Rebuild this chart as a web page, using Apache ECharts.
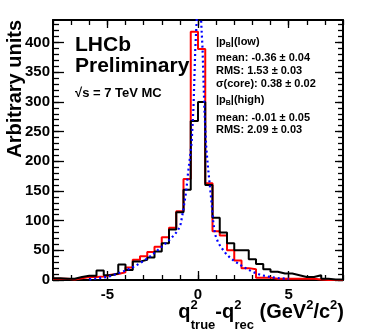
<!DOCTYPE html>
<html>
<head>
<meta charset="utf-8">
<script src="https://cdn.jsdelivr.net/npm/echarts@6/dist/echarts.min.js"></script>
<style>
  html, body { margin: 0; padding: 0; background: #fff; }
  #chart { width: 366px; height: 336px; }
</style>
</head>
<body>
<div id="chart"></div>
<script>
// histogram bins of q2(true) - q2(rec), GeV^2/c^2
const binEdges = [-8, -7.6, -7.2, -6.8, -6.4, -6, -5.6, -5.2, -4.8, -4.4, -4, -3.6, -3.2, -2.8, -2.4, -2, -1.6, -1.2, -0.8, -0.4,
  0, 0.4, 0.8, 1.2, 1.6, 2, 2.4, 2.8, 3.2, 3.6, 4, 4.4, 4.8, 5.2, 5.6, 6, 6.4, 6.8, 7.2, 7.6, 8];
// |pB| low (red)
const lowCounts = [2, 2, 1, 3, 5, 5, 6, 9, 10, 13, 21, 34, 40, 47, 56, 72, 88, 116, 170, 418,
  389, 163, 82, 75, 50, 33, 20, 18, 4, 4, 2, 2, 2, 2, 2, 2, 1, 0, 0, 0];
// |pB| high (black)
const highCounts = [3, 2, 2, 5, 7, 7, 16, 8, 11, 26, 17, 31, 34, 38, 48, 62, 85, 114, 152, 268,
  300, 160, 105, 80, 62, 50, 50, 35, 27, 18, 14, 11, 11, 8, 5, 5, 8, 2, 1, 1];
// fit to the low histogram (blue dotted)
const fitX = [-6, -5.5, -5, -4.5, -4, -3.5, -3, -2.5, -2, -1.6, -1.3, -1.1, -0.95, -0.8, -0.65, -0.55, -0.45, -0.35, -0.25, -0.15, -0.05,
  0.05, 0.15, 0.25, 0.35, 0.45, 0.55, 0.65, 0.75, 0.85, 0.95, 1.1, 1.25, 1.5, 1.75, 2, 2.5, 3, 3.5, 4, 4.5, 5];
const fitY = [1, 3, 5, 10, 16, 23, 32, 43, 56, 67, 76, 84, 95, 120, 150, 180, 205, 232, 290, 390, 450,
  470, 450, 390, 290, 225, 190, 160, 130, 95, 76, 64, 56, 46, 38, 32, 22, 14, 8, 5, 3, 2];

const xMajor = [-5, 0, 5];
const xMinor = [-8, -7, -6, -5, -4, -3, -2, -1, 0, 1, 2, 3, 4, 5, 6, 7, 8];
const yMajor = [0, 50, 100, 150, 200, 250, 300, 350, 400];
const yMinor = [0, 10, 20, 30, 40, 50, 60, 70, 80, 90, 100, 110, 120, 130, 140, 150, 160, 170, 180, 190, 200,
  210, 220, 230, 240, 250, 260, 270, 280, 290, 300, 310, 320, 330, 340, 350, 360, 370, 380, 390, 400, 410, 420, 430];

const statsLines = [
  '{a||p}{s|B}{a||(low)}',
  'mean: -0.36 ± 0.04',
  'RMS: 1.53 ± 0.03',
  'σ(core): 0.38 ± 0.02',
  '{a||p}{s|B}{a||(high)}',
  'mean: -0.01 ± 0.05',
  'RMS: 2.09 ± 0.03'
];
const statsY = [42, 58, 71, 83.5, 100, 117.5, 130];

const FONT = "'Liberation Sans', Arial, Helvetica, sans-serif";

const toSteps = (counts) => {
  const pts = counts.map((c, i) => [binEdges[i], c]);
  pts.push([binEdges[binEdges.length - 1], counts[counts.length - 1]]);
  return pts;
};

const xBase = { type: 'value', min: -8, max: 8, splitLine: { show: false } };
const yBase = { type: 'value', min: 0, max: 438, splitLine: { show: false } };
const frameLine = { show: true, onZero: false, lineStyle: { color: '#000', width: 2 } };
const noLine = { show: false, onZero: false };
const tickStyle = { color: '#000', width: 1.3 };

const chart = echarts.init(document.getElementById('chart'));
chart.setOption({
  animation: false,
  grid: { left: 53, right: 23, top: 20, bottom: 56, outerBoundsMode: 'none', containLabel: false },
  xAxis: [
    {
      ...xBase, position: 'bottom',
      axisLine: frameLine,
      axisTick: { show: true, inside: true, length: 9, customValues: xMajor, lineStyle: tickStyle },
      axisLabel: { customValues: xMajor, color: '#000', fontSize: 15, fontWeight: 'bold', fontFamily: FONT, margin: 7 }
    },
    {
      ...xBase, position: 'bottom',
      axisLine: noLine,
      axisTick: { show: true, inside: true, length: 5, customValues: xMinor, lineStyle: tickStyle },
      axisLabel: { show: false }
    },
    {
      ...xBase, position: 'top',
      axisLine: frameLine,
      axisTick: { show: true, inside: true, length: 8, customValues: xMajor, lineStyle: tickStyle },
      axisLabel: { show: false }
    },
    {
      ...xBase, position: 'top',
      axisLine: noLine,
      axisTick: { show: true, inside: true, length: 5, customValues: xMinor, lineStyle: tickStyle },
      axisLabel: { show: false }
    }
  ],
  yAxis: [
    {
      ...yBase, position: 'left',
      axisLine: frameLine,
      axisTick: { show: true, inside: true, length: 11, customValues: yMajor, lineStyle: tickStyle },
      axisLabel: { customValues: yMajor, color: '#000', fontSize: 15, fontWeight: 'bold', fontFamily: FONT, margin: 3 }
    },
    {
      ...yBase, position: 'left',
      axisLine: noLine,
      axisTick: { show: true, inside: true, length: 6, customValues: yMinor, lineStyle: tickStyle },
      axisLabel: { show: false }
    },
    {
      ...yBase, position: 'right',
      axisLine: frameLine,
      axisTick: { show: true, inside: true, length: 8, customValues: yMajor, lineStyle: tickStyle },
      axisLabel: { show: false }
    },
    {
      ...yBase, position: 'right',
      axisLine: noLine,
      axisTick: { show: true, inside: true, length: 5, customValues: yMinor, lineStyle: tickStyle },
      axisLabel: { show: false }
    }
  ],
  series: [
    {
      name: '|pB|(low)', type: 'line', step: 'end', showSymbol: false,
      lineStyle: { color: '#ff0000', width: 2 },
      data: toSteps(lowCounts)
    },
    {
      name: '|pB|(high)', type: 'line', step: 'end', showSymbol: false,
      lineStyle: { color: '#000', width: 2 },
      data: toSteps(highCounts)
    },
    {
      name: 'fit', type: 'line', showSymbol: false, clip: true,
      lineStyle: { color: '#0000ff', width: 2.2, type: [2, 3] },
      data: fitX.map((x, i) => [x, fitY[i]])
    }
  ],
  graphic: [
    // axis titles
    {
      type: 'text', x: 15, y: 20, rotation: Math.PI / 2,
      style: { text: 'Arbitrary units', font: 'bold 20px ' + FONT, fill: '#000', align: 'right', verticalAlign: 'middle' }
    },
    {
      type: 'text', x: 344, y: 292,
      style: {
        text: '{b|q}{sp|2}{sb|true}{b|-q}{sp|2}{sb|rec}{b| (GeV}{sp|2}{b|/c}{sp|2}{b|)}',
        align: 'right', verticalAlign: 'top', fill: '#000',
        rich: {
          b: { font: 'bold 20px ' + FONT, fill: '#000', lineHeight: 40, verticalAlign: 'middle' },
          sp: { font: 'bold 13px ' + FONT, fill: '#000', lineHeight: 13, verticalAlign: 'top', padding: [7, 0, 0, 0] },
          sb: { font: 'bold 13px ' + FONT, fill: '#000', lineHeight: 13, verticalAlign: 'bottom', padding: [0, 0, 0, -7] }
        }
      }
    },
    { type: 'text', x: 75, y: 45, style: { text: 'LHCb', font: 'bold 21px ' + FONT, fill: '#000', verticalAlign: 'middle' } },
    { type: 'text', x: 75, y: 66.5, style: { text: 'Preliminary', font: 'bold 21px ' + FONT, fill: '#000', verticalAlign: 'middle' } },
    { type: 'text', x: 75, y: 93, style: { text: '√s = 7 TeV MC', font: 'bold 13px ' + FONT, fill: '#000', verticalAlign: 'middle' } },
    ...statsLines.map((t, i) => ({
      type: 'text', x: 216, y: statsY[i],
      style: {
        text: t, font: 'bold 11px ' + FONT, fill: '#000', verticalAlign: 'middle',
        rich: {
          a: { font: 'bold 11px ' + FONT, fill: '#000' },
          s: { font: 'bold 7px ' + FONT, fill: '#000', padding: [6, 0, 0, 0] }
        }
      }
    }))
  ]
});
</script>
</body>
</html>
